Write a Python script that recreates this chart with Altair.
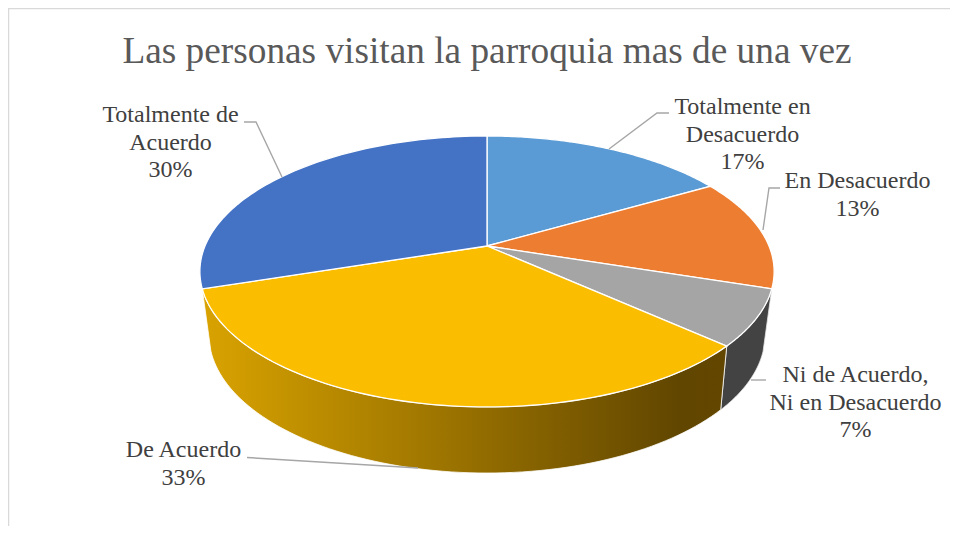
import math
import altair as alt
import pandas as pd

# ---- chart values ----
categories = ["Totalmente en Desacuerdo", "En Desacuerdo", "Ni de Acuerdo, Ni en Desacuerdo", "De Acuerdo", "Totalmente de Acuerdo"]
responses = [5, 4, 2, 10, 9]
slice_colors = ["#5B9BD5", "#ED7D31", "#A5A5A5", "#FBBD00", "#4472C4"]
title_text = "Las personas visitan la parroquia mas de una vez"

# ---- annotation text (each row one line) ----
label_lines = [
    ["Totalmente en", "Desacuerdo", "17%"],
    ["En Desacuerdo", "13%"],
    ["Ni de Acuerdo,", "Ni en Desacuerdo", "7%"],
    ["De Acuerdo", "33%"],
    ["Totalmente de", "Acuerdo", "30%"],
]
label_centers = [(742.5, 107), (857.5, 181), (855.5, 375), (183.5, 450), (170.5, 115)]
label_leading = 27.7
leaders = [
    [(669, 113), (657, 113), (609, 149)],
    [(780, 188), (769, 188), (763, 230)],
    [(766, 380), (751, 380)],
    [(247, 457.5), (418, 468)],
    [(244, 122), (256, 122), (282, 177)],
]

# ---- 3D view of the pie (page pixels) ----
W, H = 942, 518
OX, OY = 8, 8
TOP = dict(cx=487, cy=246, a=282, c=130.7, b=0.188)
BOT = dict(cx=487, cy=307.4, a=272.4, c=132.5, b=0.20)


def rim(view, share):
    t = 2 * math.pi * share
    d = 1 + view["b"] * math.cos(t)
    return (view["cx"] + view["a"] * math.sin(t) / d, view["cy"] - view["c"] * math.cos(t) / d)


def arc(view, s0, s1, n=80):
    return [rim(view, s0 + (s1 - s0) * i / n) for i in range(n + 1)]


def feature(points, fill=None):
    ring = [[x - OX, y - OY] for x, y in points]
    ring.append(ring[0])
    return {"type": "Feature", "properties": {"fill": fill}, "geometry": {"type": "Polygon", "coordinates": [ring]}}


total = sum(responses)
edges = [sum(responses[:i]) / total for i in range(len(responses) + 1)]
top_features = [
    feature([(TOP["cx"], TOP["cy"])] + arc(TOP, edges[i], edges[i + 1]), slice_colors[i])
    for i in range(len(responses))
]
wall_dark = feature(arc(TOP, edges[2], edges[3]) + arc(BOT, edges[3], edges[2]))
wall_gold = feature(arc(TOP, edges[3], edges[4]) + arc(BOT, edges[4], edges[3]))

projection = alt.Projection(type="identity", scale=1, translate=[0, 0], reflectY=False)

gold_gradient = alt.Gradient(
    gradient="linear", x1=0, x2=1, y1=0, y2=0,
    stops=[
        alt.GradientStop(offset=0, color="#D9A300"),
        alt.GradientStop(offset=0.91, color="#614600"),
        alt.GradientStop(offset=1, color="#634700"),
    ],
)

dark_layer = alt.Chart(alt.Data(values=[wall_dark])).mark_geoshape(
    fill="#434343", stroke="#E8E8E8", strokeWidth=0.8
).project(**projection.to_dict())
gold_layer = alt.Chart(alt.Data(values=[wall_gold])).mark_geoshape(
    fill=gold_gradient, stroke="#FFFFFF", strokeWidth=0.8
).project(**projection.to_dict())
top_layer = alt.Chart(alt.Data(values=top_features)).mark_geoshape(
    stroke="#FFFFFF", strokeWidth=1.3
).encode(fill=alt.Fill("properties.fill:N", scale=None)).project(**projection.to_dict())

x_scale = alt.Scale(domain=[OX, OX + W], range=[0, W])
y_scale = alt.Scale(domain=[OY, OY + H], range=[0, H])
X = lambda f: alt.X(f, type="quantitative", scale=x_scale, axis=None)
Y = lambda f: alt.Y(f, type="quantitative", scale=y_scale, axis=None)

leader_rows = pd.DataFrame(
    [{"id": i, "o": j, "x": p[0], "y": p[1]} for i, pts in enumerate(leaders) for j, p in enumerate(pts)]
)
leader_layer = alt.Chart(leader_rows).mark_line(color="#A6A6A6", strokeWidth=1.4).encode(
    x=X("x"), y=Y("y"), detail="id:N", order="o:Q"
)

text_rows = pd.DataFrame(
    [
        {"t": line, "x": c[0], "y": c[1] + k * label_leading}
        for lines, c in zip(label_lines, label_centers)
        for k, line in enumerate(lines)
    ]
)
text_layer = alt.Chart(text_rows).mark_text(
    font="Liberation Serif", fontSize=24, color="#404040", align="center", baseline="middle"
).encode(x=X("x"), y=Y("y"), text="t:N")

frame_rows = pd.DataFrame({"x": [OX + W, OX + 0.5, OX + 0.5], "y": [OY + 0.5, OY + 0.5, OY + H], "o": [0, 1, 2]})
frame_layer = alt.Chart(frame_rows).mark_line(color="#D9D9D9", strokeWidth=1.5).encode(
    x=X("x"), y=Y("y"), order="o:Q"
)

chart = alt.layer(frame_layer, dark_layer, gold_layer, top_layer, leader_layer, text_layer).properties(
    width=W,
    height=H,
    padding=0,
    autosize=alt.AutoSizeParams(type="none"),
    background="white",
    title=alt.TitleParams(
        title_text, font="Liberation Serif", fontSize=37.3, fontWeight="normal", color="#595959",
        anchor="middle", offset=-66, dx=487 - OX - W / 2,
    ),
).configure_view(stroke=None)

chart.save("out.html", embed_options={"renderer": "svg", "actions": False})
